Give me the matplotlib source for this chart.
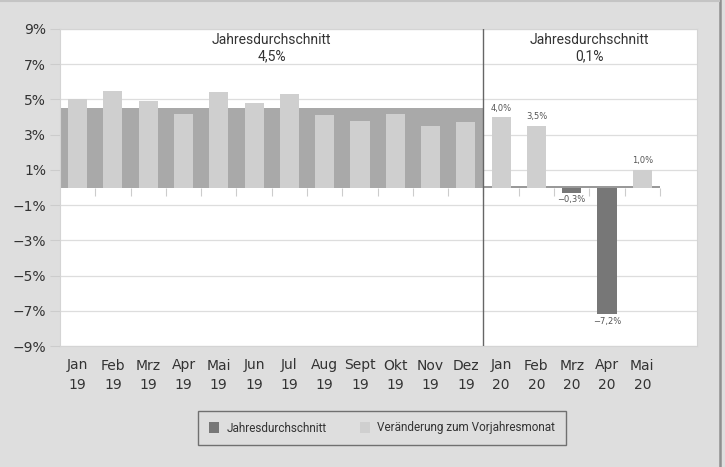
import matplotlib
matplotlib.use("Agg")
import matplotlib.pyplot as plt
from matplotlib.lines import Line2D
from matplotlib.patches import Patch
import numpy as np

months = ["Jan\n19", "Feb\n19", "Mrz\n19", "Apr\n19", "Mai\n19", "Jun\n19",
          "Jul\n19", "Aug\n19", "Sept\n19", "Okt\n19", "Nov\n19", "Dez\n19",
          "Jan\n20", "Feb\n20", "Mrz\n20", "Apr\n20", "Mai\n20"]
change_2019 = [5.0, 5.5, 4.9, 4.2, 5.4, 4.8, 5.3, 4.1, 3.8, 4.2, 3.5, 3.7]
change_2020 = [4.0, 3.5, -0.3, -7.2, 1.0]
avg_2019 = 4.5
avg_2020 = 0.1
yticks = [9, 7, 5, 3, 1, -1, -3, -5, -7, -9]

BG = "#dedede"
BAND = "#a9a9a9"
LIGHT = "#cfcfcf"
DARK = "#777777"
TXT = "#333333"
NARROW = ["Liberation Sans Narrow", "DejaVu Sans"]

fig = plt.figure(figsize=(7.25, 4.67), dpi=100, facecolor=BG)
ax = fig.add_axes([60 / 725, 1 - 346 / 467, 637 / 725, 317 / 467])
ax.set_facecolor("white")

x = np.arange(len(months))
x19, x20 = x[:12], x[12:]

# annual averages as full-width bands
ax.bar(x19, [avg_2019] * 12, width=1.0, color=BAND, zorder=2)
ax.bar(x20, [avg_2020] * 5, width=1.0, color="#999999", zorder=2)

# monthly change
ax.bar(x19, change_2019, width=0.54, color=LIGHT, zorder=3)
cols20 = [LIGHT if v > 0 else DARK for v in change_2020]
ax.bar(x20, change_2020, width=0.54, color=cols20, zorder=3)
for xi, v in zip(x20, change_2020):
    lab = f"{v:.1f}%".replace(".", ",").replace("-", "\u2212")
    if v > 0:
        ax.text(xi, v + 0.25, lab, ha="center", va="bottom", fontsize=6, color="#555555")
    else:
        ax.text(xi, v - 0.15, lab, ha="center", va="top", fontsize=6, color="#555555")

# category separators on the zero line
ax.vlines(np.arange(1, 18) - 0.5, -0.5, 0, color="#cccccc", lw=0.8, zorder=1)
ax.axvline(11.5, color="#666666", lw=1.0, zorder=4)

ax.set_xlim(-0.5, 17.55)
ax.set_ylim(-9, 9)
ax.set_yticks(yticks)
ax.set_yticklabels([f"{t}%".replace("-", "\u2212") for t in yticks],
                   fontsize=10, color=TXT, family=NARROW)
ax.yaxis.grid(True, color="#dddddd", lw=0.9, zorder=0)
ax.tick_params(axis="y", length=7, color="#cccccc", pad=3)
ax.set_xticks(x)
ax.set_xticklabels(months, fontsize=10, color=TXT, linespacing=1.5, family=NARROW)
ax.tick_params(axis="x", length=0, pad=9)
for s in ax.spines.values():
    s.set_color("#d4d4d4")
    s.set_linewidth(0.8)

ax.text(5.5, 8.8, "Jahresdurchschnitt\n4,5%", ha="center", va="top",
        fontsize=10, color=TXT, linespacing=1.25, family="Roboto")
ax.text(14.5, 8.8, "Jahresdurchschnitt\n0,1%", ha="center", va="top",
        fontsize=10, color=TXT, linespacing=1.25, family="Roboto")

handles = [Patch(facecolor=DARK, edgecolor="none"), Patch(facecolor=LIGHT, edgecolor="none")]
leg = fig.legend(handles, ["Jahresdurchschnitt", "Veränderung zum Vorjahresmonat"],
                 loc="center", bbox_to_anchor=(382 / 725, 1 - 428 / 467), ncol=2,
                 frameon=True, fancybox=False, handlelength=0.9,
                 handleheight=1.1, columnspacing=2.8, borderpad=0.9, handletextpad=0.6,
                 borderaxespad=0, prop={"family": "Roboto", "size": 8.5})
leg.get_frame().set_edgecolor("#555555")
leg.get_frame().set_facecolor(BG)
leg.get_frame().set_linewidth(1.0)
for t in leg.get_texts():
    t.set_color(TXT)

fig.add_artist(Line2D([719.5 / 725] * 2, [0, 1], color="#8f8f8f", lw=1.8))
fig.add_artist(Line2D([0, 719 / 725], [1 - 1 / 467] * 2, color="#c4c4c4", lw=1.5))

fig.savefig("out.png", dpi=100, facecolor=BG)
